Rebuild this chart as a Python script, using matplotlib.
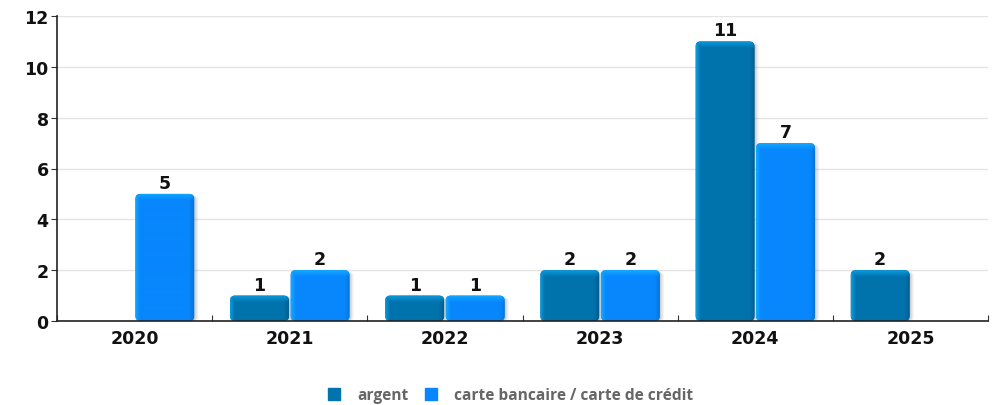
import numpy as np
import matplotlib.pyplot as plt
from matplotlib.colors import to_rgb
from matplotlib.patches import FancyBboxPatch

plt.rcParams['font.family'] = ['DejaVu Sans']

years = ['2020', '2021', '2022', '2023', '2024', '2025']
argent = [0, 1, 1, 2, 11, 2]
carte = [5, 2, 1, 2, 7, 0]
series_names = ['argent', 'carte bancaire / carte de crédit']
base_colors = ['#0072ac', '#0886fc']
light_colors = ['#0ea2e8', '#14b0ff']
dark_colors = ['#005888', '#0670d0']

fig = plt.figure(figsize=(9.98, 4.06), dpi=100)
ax = fig.add_axes([57 / 998, 1 - 322 / 406, 931 / 998, 305 / 406])

x = np.arange(len(years))
w = 0.38
off = 0.195

ax.set_xlim(-0.5, len(years) - 0.5)
ax.set_ylim(0, 12)

px_x = 1 / 155.0
px_y = 12 / 305.0


def bar_shading(k, wpx, hpx):
    # horizontal: bright left rim, flat body, darker right rim; bright band on top
    base = np.array(to_rgb(base_colors[k]))
    light = np.array(to_rgb(light_colors[k]))
    dark = np.array(to_rgb(dark_colors[k]))
    cols = np.arange(wpx) + 0.5
    rows = np.arange(hpx) + 0.5
    left = np.clip(1 - cols / 5.0, 0, 1)[None, :]
    right = np.clip(1 - (wpx - cols) / 5.0, 0, 1)[None, :]
    topb = np.clip(1 - rows / 7.0, 0, 1)[:, None]
    hl = np.clip(np.maximum(left * 0.9, topb * 0.85), 0, 1)
    img = base[None, None, :] * np.ones((hpx, wpx, 1))
    img = img * (1 - right[..., None] * 0.8) + dark * (right[..., None] * 0.8)
    img = img * (1 - hl[..., None]) + light * hl[..., None]
    return img


for k, vals in enumerate([argent, carte]):
    xs = x + (off if k else -off)
    bars = ax.bar(xs, vals, width=w, color=base_colors[k], zorder=3)
    for b, v in zip(bars, vals):
        b.set_visible(False)
        if v == 0:
            continue
        x0, w0 = b.get_x(), b.get_width()
        # soft shadow on the right side
        for s, a in [(4, 0.09), (2.5, 0.11), (1, 0.13)]:
            sh = FancyBboxPatch((x0 + s * px_x, 0), w0, v - 2 * px_y,
                                boxstyle='round,pad=0,rounding_size=%f' % (4 * px_x),
                                mutation_aspect=px_y / px_x,
                                fc='#555555', ec='none', alpha=a, zorder=2)
            ax.add_patch(sh)
        body = FancyBboxPatch((x0, 0), w0, v,
                              boxstyle='round,pad=0,rounding_size=%f' % (5 * px_x),
                              mutation_aspect=px_y / px_x,
                              fc=base_colors[k], ec='none', zorder=3)
        ax.add_patch(body)
        wpx = int(round(w0 / px_x))
        hpx = int(round(v / px_y))
        im = ax.imshow(bar_shading(k, wpx, hpx), aspect='auto',
                       extent=(x0, x0 + w0, 0, v), zorder=3.5, interpolation='bilinear')
        im.set_clip_path(body)
        ax.text(x0 + w0 / 2, v + 2 * px_y, str(v), ha='center', va='bottom',
                fontsize=12.5, fontweight='bold', color='#111111', zorder=5)

ax.set_xticks(np.arange(len(years) + 1) - 0.5)
ax.set_xticklabels([])
ax.set_xticks(x, minor=True)
ax.set_xticklabels(years, minor=True, fontsize=12.5, fontweight='bold', color='#111111')
ax.tick_params(axis='x', which='minor', length=0, pad=6)
ax.tick_params(axis='x', which='major', length=4, direction='in', color='#333333')
ax.set_yticks(range(0, 13, 2))
ax.set_yticklabels([str(v) for v in range(0, 13, 2)], fontsize=12.5, fontweight='bold',
                   color='#111111')
ax.tick_params(axis='y', length=4, color='#333333', pad=2)
ax.grid(axis='y', color='#e4e4e4', linewidth=1, zorder=0)
ax.set_axisbelow(True)
for s in ['top', 'right']:
    ax.spines[s].set_visible(False)
for s in ['left', 'bottom']:
    ax.spines[s].set_color('#222222')
    ax.spines[s].set_linewidth(1.2)
    ax.spines[s].set_zorder(4)

handles = [plt.Line2D([], [], marker='s', linestyle='none', markersize=8.5,
                      markerfacecolor=c, markeredgecolor=c) for c in base_colors]
leg = fig.legend(handles, series_names, loc='center', bbox_to_anchor=(0.507, 1 - 396 / 406),
                 ncol=2, frameon=False, handletextpad=0.45, columnspacing=0.5,
                 prop={'family': 'Open Sans', 'weight': 'bold', 'size': 11.2})
for t in leg.get_texts():
    t.set_color('#666666')

fig.savefig('out.png', dpi=100)
